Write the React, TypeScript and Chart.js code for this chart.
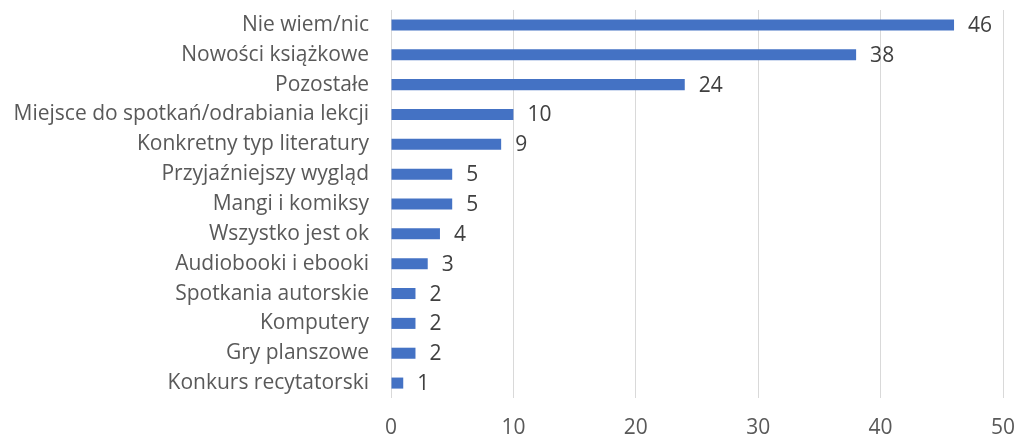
import React, { useEffect, useRef } from "react";
import { Chart, registerables } from "chart.js";

Chart.register(...registerables);

const categories = [
  "Nie wiem/nic",
  "Nowości książkowe",
  "Pozostałe",
  "Miejsce do spotkań/odrabiania lekcji",
  "Konkretny typ literatury",
  "Przyjaźniejszy wygląd",
  "Mangi i komiksy",
  "Wszystko jest ok",
  "Audiobooki i ebooki",
  "Spotkania autorskie",
  "Komputery",
  "Gry planszowe",
  "Konkurs recytatorski",
];
const values = [46, 38, 24, 10, 9, 5, 5, 4, 3, 2, 2, 2, 1];
const xTicks = [0, 10, 20, 30, 40, 50];

const FONT = "'Open Sans', sans-serif";
const FSIZE = 21;

const valueLabels = {
  id: "valueLabels",
  afterDatasetsDraw(chart: any) {
    const ctx = chart.ctx;
    const meta = chart.getDatasetMeta(0);
    ctx.save();
    ctx.font = `${FSIZE}px ${FONT}`;
    ctx.fillStyle = "#404040";
    ctx.textAlign = "left";
    ctx.textBaseline = "middle";
    meta.data.forEach((el: any, i: number) => {
      ctx.fillText(String(values[i]), el.x + 14, el.y + 1);
    });
    ctx.restore();
  },
};

const zeroPad = (s: any) => {
  s.paddingTop = 0;
  s.paddingBottom = 0;
  s.paddingLeft = 0;
  s.paddingRight = 0;
};

export default function App() {
  const ref = useRef<HTMLCanvasElement | null>(null);
  useEffect(() => {
    if (!ref.current) return;
    const chart = new Chart(ref.current, {
      type: "bar",
      data: {
        labels: categories,
        datasets: [
          {
            data: values,
            backgroundColor: "#4472C4",
            barPercentage: 0.37,
            categoryPercentage: 1,
          },
        ],
      },
      options: {
        indexAxis: "y",
        animation: false,
        responsive: false,
        maintainAspectRatio: false,
        layout: { padding: { top: 10, right: 13, left: 0, bottom: 0 } },
        plugins: { legend: { display: false }, tooltip: { enabled: false } },
        scales: {
          x: {
            min: 0,
            max: 50,
            afterBuildTicks: (s: any) => {
              s.ticks = xTicks.map((v) => ({ value: v }));
            },
            afterFit: (s: any) => {
              s.height = 38;
              zeroPad(s);
            },
            grid: { color: "#D9D9D9", lineWidth: 1, drawTicks: false },
            border: { display: false },
            ticks: {
              padding: 17,
              color: "#595959",
              font: { family: FONT, size: FSIZE },
              maxRotation: 0,
            },
          },
          y: {
            afterFit: (s: any) => {
              s.width = 391;
              zeroPad(s);
            },
            grid: { display: false, drawTicks: false },
            border: { display: false },
            ticks: {
              padding: 22,
              color: "#595959",
              font: { family: FONT, size: FSIZE },
              autoSkip: false,
            },
          },
        },
      },
      plugins: [valueLabels],
    });
    return () => chart.destroy();
  }, []);
  return (
    <div style={{ position: "fixed", left: 0, top: 0, width: 1016, height: 436, background: "#fff" }}>
      <canvas ref={ref} width={1016} height={436} />
    </div>
  );
}
